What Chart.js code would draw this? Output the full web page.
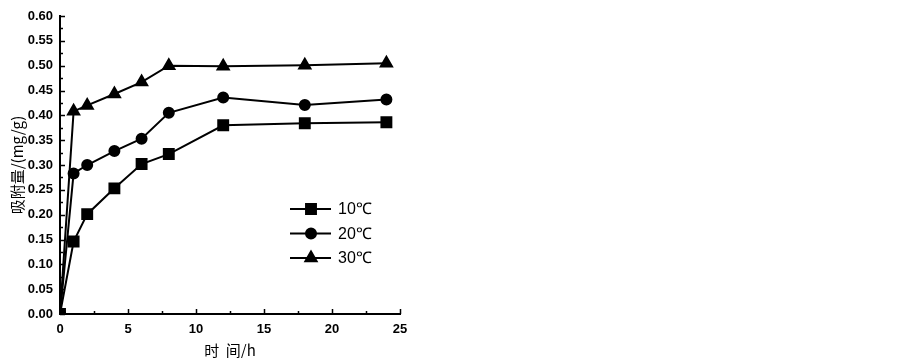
<!DOCTYPE html>
<html lang="zh">
<head>
<meta charset="UTF-8">
<title>吸附量-时间</title>
<script src="https://cdn.jsdelivr.net/npm/chart.js"></script>
<style>
    html, body { margin: 0; padding: 0; background: #fff; }
    #wrap { width: 903px; height: 358px; }
</style>
</head>
<body>
<div id="wrap"><canvas id="myChart" width="903" height="358"></canvas></div>
<script>
    // 时间 (h)
    const hours = [0, 1, 2, 4, 6, 8, 12, 18, 24];
    // 吸附量 (mg/g)
    const t10 = [0, 0.146, 0.201, 0.253, 0.302, 0.322, 0.380, 0.384, 0.386];
    const t20 = [0, 0.283, 0.300, 0.328, 0.353, 0.405, 0.436, 0.421, 0.432];
    const t30 = [0, 0.408, 0.420, 0.443, 0.467, 0.500, 0.499, 0.501, 0.505];
    const seriesNames = ['10℃', '20℃', '30℃'];
    const markers = ['rect', 'circle', 'triangle'];
    const markerSizes = [7, 5, 6.5];

    const toPoints = ys => ys.map((y, i) => ({ x: hours[i], y: y }));

    // 坐标轴内侧刻度
    const innerTicks = {
        id: 'innerTicks',
        afterDraw(chart) {
            const c = chart.ctx, a = chart.chartArea;
            const xs = chart.scales.x, ys = chart.scales.y;
            c.save();
            c.strokeStyle = '#000';
            c.lineWidth = 1.5;
            c.beginPath();
            for (let v = 0; v <= 25.001; v += 2.5) {
                const px = Math.round(xs.getPixelForValue(v)) + 0.5;
                const len = (Math.round(v * 2) % 10 === 0) ? 5 : 3;
                c.moveTo(px, a.bottom);
                c.lineTo(px, a.bottom - len);
            }
            for (let k = 0; k <= 24; k++) {
                const py = Math.round(ys.getPixelForValue(k * 0.025)) + 0.5;
                const len = (k % 2 === 0) ? 5 : 3;
                c.moveTo(a.left, py);
                c.lineTo(a.left + len, py);
            }
            c.stroke();
            c.restore();
        }
    };

    // 图例
    const boxLegend = {
        id: 'boxLegend',
        afterDraw(chart) {
            const c = chart.ctx;
            c.save();
            chart.data.datasets.forEach((ds, i) => {
                const y = 209 + i * 24.5;
                c.strokeStyle = '#000';
                c.lineWidth = 2;
                c.beginPath();
                c.moveTo(290, y);
                c.lineTo(331, y);
                c.stroke();
                Chart.helpers.drawPoint(c, {
                    pointStyle: ds.pointStyle,
                    radius: ds.pointRadius,
                    borderWidth: 1
                }, 311, y);
                c.fillStyle = '#000';
                c.fill();
                c.font = '16px "Liberation Sans", Arial, sans-serif';
                c.textBaseline = 'middle';
                c.fillText(ds.label, 338, y + 1);
            });
            c.restore();
        }
    };

    const tickFont = { family: '"Liberation Sans", Arial, sans-serif', size: 13, weight: 'bold' };
    const titleFont = { family: '"Noto Sans CJK SC", serif', size: 15, lineHeight: 1 };

    const ctx = document.getElementById('myChart').getContext('2d');
    const datasets = [t10, t20, t30].map((vals, i) => ({
        label: seriesNames[i],
        data: toPoints(vals),
        borderColor: '#000',
        backgroundColor: '#000',
        borderWidth: 2,
        pointStyle: markers[i],
        pointRadius: markerSizes[i],
        pointHoverRadius: markerSizes[i],
        tension: 0
    }));

    new Chart(ctx, {
        type: 'line',
        data: { datasets: datasets },
        options: {
            responsive: false,
            animation: false,
            layout: { padding: { left: 10, right: 503, top: 16, bottom: 0 } },
            plugins: {
                legend: { display: false },
                tooltip: { enabled: false }
            },
            scales: {
                x: {
                    type: 'linear',
                    min: 0,
                    max: 25,
                    afterFit: s => { s.height = 44; },
                    border: { display: true, color: '#000', width: 2 },
                    grid: { display: false, tickLength: 0 },
                    ticks: {
                        stepSize: 5,
                        color: '#000',
                        padding: 8,
                        font: tickFont
                    },
                    title: {
                        display: true,
                        text: '时  间/h',
                        color: '#000',
                        padding: 0,
                        font: titleFont
                    }
                },
                y: {
                    min: 0,
                    max: 0.6,
                    afterFit: s => { s.width = 50; },
                    border: { display: true, color: '#000', width: 2 },
                    grid: { display: false, tickLength: 0 },
                    ticks: {
                        stepSize: 0.05,
                        color: '#000',
                        padding: 7,
                        callback: v => Number(v).toFixed(2),
                        font: tickFont
                    },
                    title: {
                        display: true,
                        text: '吸附量/(mg/g)',
                        color: '#000',
                        padding: 0,
                        font: titleFont
                    }
                }
            }
        },
        plugins: [innerTicks, boxLegend]
    });
</script>
</body>
</html>
